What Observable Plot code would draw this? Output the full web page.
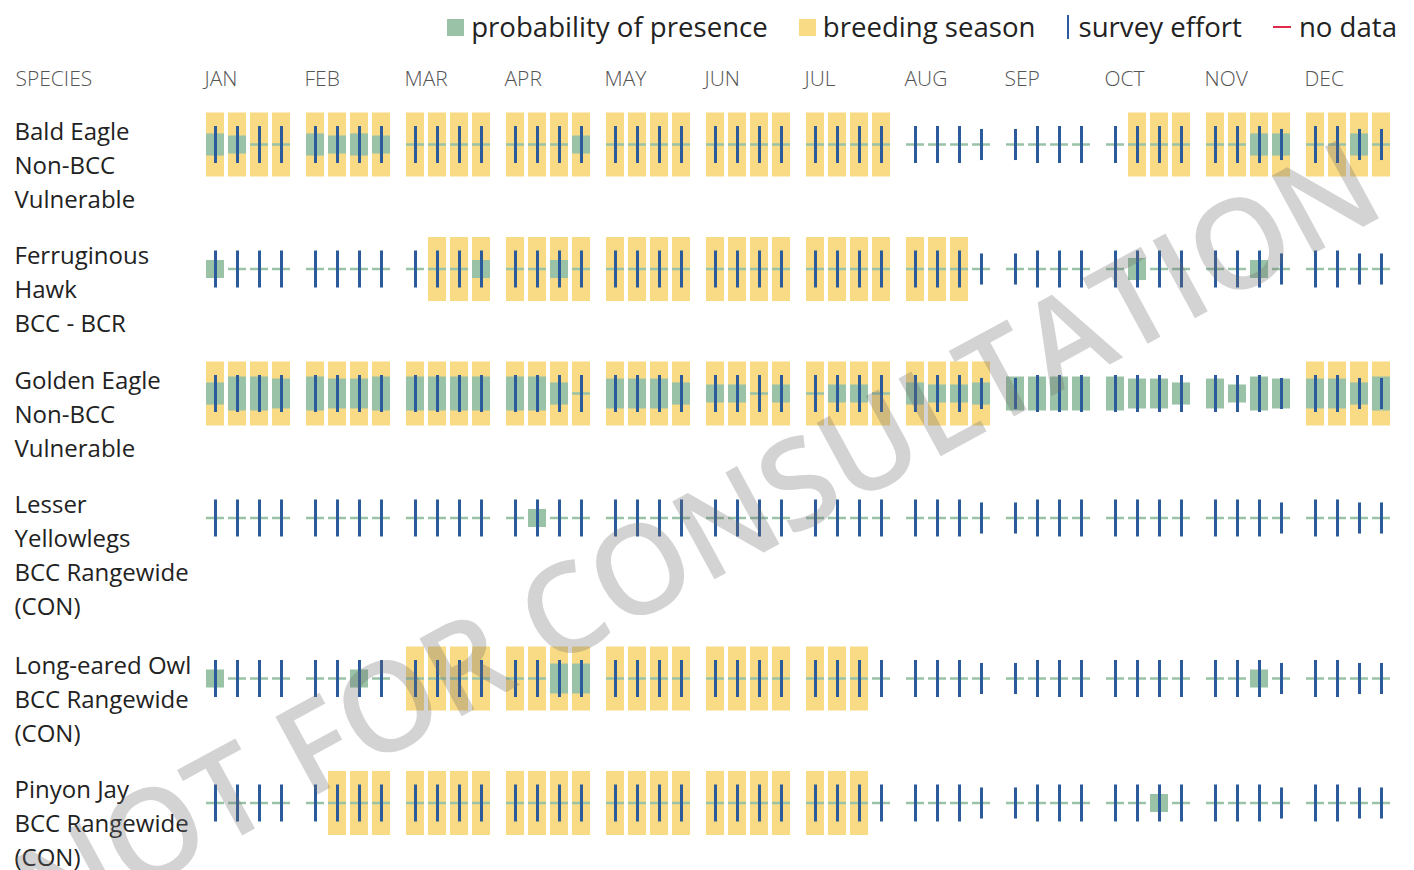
<!DOCTYPE html>
<html>
<head>
<meta charset="utf-8">
<script src="https://cdn.jsdelivr.net/npm/d3@7"></script>
<script src="https://cdn.jsdelivr.net/npm/@observablehq/plot@0.6"></script>
<style>
  html, body { margin: 0; padding: 0; background: #fff; }
  body { width: 1414px; height: 870px; overflow: hidden; position: relative; font-family: "Open Sans", sans-serif; }
  #legend { height: 54px; display: flex; align-items: center; justify-content: flex-end; padding-right: 17px; font-size: 27.6px; color: #222; line-height: 1; }
  .item { display: flex; align-items: center; margin-left: 31px; }
  .sw { width: 17px; height: 17px; margin-right: 7px; }
  .vline { width: 2px; height: 24px; margin-right: 10px; }
  .hline { width: 18px; height: 2px; margin-right: 8px; }
  #chart svg { display: block; }
  #watermark { position: absolute; left: 695px; top: 535px; transform: translate(-50%, -50%) rotate(-28.5deg);
    font-size: 124px; font-weight: 600; line-height: 1; white-space: nowrap; color: rgba(110, 110, 110, 0.3);
    pointer-events: none; font-family: "Open Sans", sans-serif; }
</style>
</head>
<body>
<div id="legend"></div>
<div id="chart"></div>
<div id="watermark">NOT FOR CONSULTATION</div>
<script>
// ---------------- data ----------------
const months = ["JAN", "FEB", "MAR", "APR", "MAY", "JUN", "JUL", "AUG", "SEP", "OCT", "NOV", "DEC"];
const species = ["Bald Eagle", "Ferruginous Hawk", "Golden Eagle", "Lesser Yellowlegs", "Long-eared Owl", "Pinyon Jay"];
const status = ["Non-BCC Vulnerable", "BCC - BCR", "Non-BCC Vulnerable", "BCC Rangewide (CON)", "BCC Rangewide (CON)", "BCC Rangewide (CON)"];
const legendLabels = ["probability of presence", "breeding season", "survey effort", "no data"];

// breeding season per week (4 weeks per month, Jan..Dec)
const breedingBaldEagle =       [1,1,1,1, 1,1,1,1, 1,1,1,1, 1,1,1,1, 1,1,1,1, 1,1,1,1, 1,1,1,1, 0,0,0,0, 0,0,0,0, 0,1,1,1, 1,1,1,1, 1,1,1,1];
const breedingFerruginousHawk = [0,0,0,0, 0,0,0,0, 0,1,1,1, 1,1,1,1, 1,1,1,1, 1,1,1,1, 1,1,1,1, 1,1,1,0, 0,0,0,0, 0,0,0,0, 0,0,0,0, 0,0,0,0];
const breedingGoldenEagle =     [1,1,1,1, 1,1,1,1, 1,1,1,1, 1,1,1,1, 1,1,1,1, 1,1,1,1, 1,1,1,1, 1,1,1,1, 0,0,0,0, 0,0,0,0, 0,0,0,0, 1,1,1,1];
const breedingLesserYellowlegs =[0,0,0,0, 0,0,0,0, 0,0,0,0, 0,0,0,0, 0,0,0,0, 0,0,0,0, 0,0,0,0, 0,0,0,0, 0,0,0,0, 0,0,0,0, 0,0,0,0, 0,0,0,0];
const breedingLongEaredOwl =    [0,0,0,0, 0,0,0,0, 1,1,1,1, 1,1,1,1, 1,1,1,1, 1,1,1,1, 1,1,1,0, 0,0,0,0, 0,0,0,0, 0,0,0,0, 0,0,0,0, 0,0,0,0];
const breedingPinyonJay =       [0,0,0,0, 0,1,1,1, 1,1,1,1, 1,1,1,1, 1,1,1,1, 1,1,1,1, 1,1,1,0, 0,0,0,0, 0,0,0,0, 0,0,0,0, 0,0,0,0, 0,0,0,0];

// probability of presence per week (relative, 1 = tallest bar)
const probBaldEagle =       [.65,.53,0,0, .65,.53,.65,.53, 0,0,0,0, 0,0,0,.53, 0,0,0,0, 0,0,0,0, 0,0,0,0, 0,0,0,0, 0,0,0,0, 0,0,0,0, 0,0,.65,.65, 0,0,.65,0];
const probFerruginousHawk = [.53,0,0,0, 0,0,0,0, 0,0,0,.53, 0,0,.53,0, 0,0,0,0, 0,0,0,0, 0,0,0,0, 0,0,0,0, 0,0,0,0, 0,.65,0,0, 0,0,.53,0, 0,0,0,0];
const probGoldenEagle =     [.65,1,1,.88, 1,.88,.88,1, 1,1,1,1, 1,1,.65,0, .88,.88,.88,.65, .53,.53,0,.53, 0,.53,.53,0, .65,.53,.53,.65, 1,1,1,1, 1,.88,.88,.65, .88,.53,1,.88, .88,.88,.65,1];
const probLesserYellowlegs =[0,0,0,0, 0,0,0,0, 0,0,0,0, 0,.53,0,0, 0,0,0,0, 0,0,0,0, 0,0,0,0, 0,0,0,0, 0,0,0,0, 0,0,0,0, 0,0,0,0, 0,0,0,0];
const probLongEaredOwl =    [.53,0,0,0, 0,0,.53,0, 0,0,0,0, 0,0,.88,.88, 0,0,0,0, 0,0,0,0, 0,0,0,0, 0,0,0,0, 0,0,0,0, 0,0,0,0, 0,0,.53,0, 0,0,0,0];
const probPinyonJay =       [0,0,0,0, 0,0,0,0, 0,0,0,0, 0,0,0,0, 0,0,0,0, 0,0,0,0, 0,0,0,0, 0,0,0,0, 0,0,0,0, 0,0,.53,0, 0,0,0,0, 0,0,0,0];

// survey effort per week (relative, 1 = tallest tick)
const effortBaldEagle =       [1,1,1,1, 1,1,1,1, 1,1,1,1, 1,1,1,1, 1,1,1,1, 1,1,1,1, 1,1,1,1, 1,1,1,.84, .84,1,1,1, 1,1,1,1, 1,1,1,.84, 1,1,.84,.84];
const effortFerruginousHawk = [1,1,1,1, 1,1,1,1, 1,1,1,1, 1,1,1,1, 1,1,1,1, 1,1,1,1, 1,1,1,1, 1,1,1,.84, .84,1,1,1, 1,1,1,1, 1,1,1,.84, 1,1,.84,.84];
const effortGoldenEagle =     [1,1,1,1, 1,1,1,1, 1,1,1,1, 1,1,1,1, 1,1,1,1, 1,1,1,1, 1,1,1,1, 1,1,1,.84, .84,1,1,1, 1,1,1,1, 1,1,1,.84, 1,1,.84,.84];
const effortLesserYellowlegs =[1,1,1,1, 1,1,1,1, 1,1,1,1, 1,1,1,1, 1,1,1,1, 1,1,1,1, 1,1,1,1, 1,1,1,.84, .84,1,1,1, 1,1,1,1, 1,1,1,.84, 1,1,.84,.84];
const effortLongEaredOwl =    [1,1,1,1, 1,1,1,1, 1,1,1,1, 1,1,1,1, 1,1,1,1, 1,1,1,1, 1,1,1,1, 1,1,1,.84, .84,1,1,1, 1,1,1,1, 1,1,1,.84, 1,1,.84,.84];
const effortPinyonJay =       [1,1,1,1, 1,1,1,1, 1,1,1,1, 1,1,1,1, 1,1,1,1, 1,1,1,1, 1,1,1,1, 1,1,1,.84, .84,1,1,1, 1,1,1,1, 1,1,1,.84, 1,1,.84,.84];

const breeding = [breedingBaldEagle, breedingFerruginousHawk, breedingGoldenEagle, breedingLesserYellowlegs, breedingLongEaredOwl, breedingPinyonJay];
const probability = [probBaldEagle, probFerruginousHawk, probGoldenEagle, probLesserYellowlegs, probLongEaredOwl, probPinyonJay];
const effort = [effortBaldEagle, effortFerruginousHawk, effortGoldenEagle, effortLesserYellowlegs, effortLongEaredOwl, effortPinyonJay];

// ---------------- style / layout ----------------
const YELLOW = "#F9DA85", GREEN = "#99C2A7", BLUE = "#2B5B9B", RED = "#E2294A";
const FONT = "'Open Sans', sans-serif";
const LABEL_SIZE = 24, LINE_H = 34, LABEL_MAX = 186;
const WEEK_STEP = 0.22, HALF_BOX = 0.09;
const BOX_HALF_H = 32, BAR_HALF_MAX = 17, TICK_HALF_MAX = 18.5, BASE_HALF = 1.25;
const LEGEND_H = 54;
const FIRST_CENTER = 144.5 - LEGEND_H, SVG_H = 870 - LEGEND_H;

// legend
const legend = document.getElementById("legend");
const legendMarks = [
  `<div class="sw" style="background:${GREEN}"></div>`,
  `<div class="sw" style="background:${YELLOW}"></div>`,
  `<div class="vline" style="background:${BLUE}"></div>`,
  `<div class="hline" style="background:${RED}"></div>`
];
legend.innerHTML = legendLabels.map((t, i) => `<div class="item">${legendMarks[i]}<span>${t}</span></div>`).join("");

// wrap labels
const ctx = document.createElement("canvas").getContext("2d");
ctx.font = `${LABEL_SIZE}px "Open Sans"`;
function wrap(str) {
  const out = []; let cur = "";
  for (const w of str.split(" ")) {
    const t = cur ? cur + " " + w : w;
    if (cur && ctx.measureText(t).width > LABEL_MAX) { out.push(cur); cur = w; } else cur = t;
  }
  if (cur) out.push(cur);
  return out;
}

const rows = [];
let center = FIRST_CENTER;
species.forEach((name, i) => {
  const lines = [...wrap(name), ...wrap(status[i])];
  rows.push({i, center, lines});
  center += 36 * lines.length + 16.5;
});

const cells = [];
const labelLines = [];
rows.forEach(r => {
  for (let k = 0; k < 48; ++k) {
    const m = Math.floor(k / 4), w = k % 4;
    cells.push({x: m + w * WEEK_STEP, cy: r.center, breeding: breeding[r.i][k], p: probability[r.i][k], e: effort[r.i][k]});
  }
  r.lines.forEach((t, j) => labelLines.push({text: t, y: r.center - 5.5 + LINE_H * j}));
});

const chart = Plot.plot({
  width: 1414,
  height: SVG_H,
  marginTop: 35, marginLeft: 0, marginRight: 0, marginBottom: 0,
  x: {domain: [0, 11 + 3 * WEEK_STEP], range: [215, 1381], label: null},
  y: {type: "identity", axis: null, label: null},
  style: {fontFamily: FONT, background: "transparent", overflow: "visible"},
  marks: [
    Plot.axisX({anchor: "top", label: null, ticks: d3.range(12), tickFormat: i => months[i], tickSize: 0, tickPadding: 4,
      textAnchor: "start", dx: -11, fontSize: 21, fontWeight: 300, fill: "#555"}),
    Plot.text(["SPECIES"], {frameAnchor: "top-left", lineAnchor: "bottom", dx: 15, dy: -4, fontSize: 21, fontWeight: 300, fill: "#555"}),
    Plot.text(labelLines, {frameAnchor: "left", y: "y", text: "text", lineAnchor: "bottom", dx: 14, fontSize: LABEL_SIZE, fill: "#222", textAnchor: "start"}),
    Plot.rect(cells.filter(d => d.breeding), {x1: d => d.x - HALF_BOX, x2: d => d.x + HALF_BOX, y1: d => d.cy - BOX_HALF_H, y2: d => d.cy + BOX_HALF_H, fill: YELLOW}),
    Plot.rect(cells, {x1: d => d.x - HALF_BOX, x2: d => d.x + HALF_BOX, y1: d => d.cy - BASE_HALF, y2: d => d.cy + BASE_HALF, fill: GREEN}),
    Plot.rect(cells.filter(d => d.p > 0), {x1: d => d.x - HALF_BOX, x2: d => d.x + HALF_BOX, y1: d => d.cy - d.p * BAR_HALF_MAX, y2: d => d.cy + d.p * BAR_HALF_MAX, fill: GREEN}),
    Plot.ruleX(cells, {x: "x", y1: d => d.cy - d.e * TICK_HALF_MAX, y2: d => d.cy + d.e * TICK_HALF_MAX, stroke: BLUE, strokeWidth: 3})
  ]
});
document.getElementById("chart").appendChild(chart);
</script>
</body>
</html>
